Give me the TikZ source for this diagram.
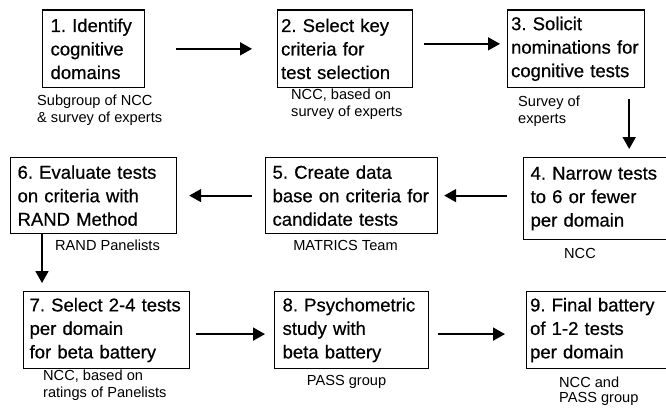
\documentclass[tikz,border=0pt]{standalone}
\usepackage{fontspec}
\setmainfont{Liberation Sans}
\newfontfamily\stagefam[FakeBold=0.6]{Liberation Sans}
\frenchspacing
\usetikzlibrary{arrows.meta}
\newcommand{\stagefont}{\stagefam\fontsize{18.5}{23.5}\selectfont}
\newcommand{\whofont}{\fontsize{14.6}{17}\selectfont}
\tikzset{
  stage/.style = {
    draw, line width=1.2pt, anchor=north west, align=left,
    inner ysep=0pt, font=\stagefont
  },
  who/.style = {align=left, inner sep=0pt, font=\whofont},
  flow/.style = {line width=1.8pt, -{Triangle[length=12pt,width=13pt]}}
}

\begin{document}
\begin{tikzpicture}[x=1pt,y=-1pt]
  \useasboundingbox (0,0) rectangle (666,409);
  %
  \node[stage, inner xsep=8pt, text width=86pt, minimum height=77.5pt] (b1) at (42,9.5) {1. Identify\\ cognitive\\ domains};
  \node[stage, inner xsep=3.5pt, text width=128pt, minimum height=77.5pt] (b2) at (277,9.5) {2. Select key\\ criteria for\\ test selection};
  \node[stage, inner xsep=3.5pt, text width=130pt, minimum height=77.5pt] (b3) at (507,9.5) {3. Solicit\\ nominations for\\ cognitive tests};
  %
  \node[stage, inner xsep=7pt, text width=133pt, minimum height=82pt] (b4) at (523,157) {4. Narrow tests\\ to 6 or fewer\\ per domain};
  \node[stage, inner xsep=7pt, text width=158pt, minimum height=76pt] (b5) at (265,157) {5. Create data\\ base on criteria for\\ candidate tests};
  \node[stage, inner xsep=7pt, text width=152pt, minimum height=76pt] (b6) at (10,157) {6. Evaluate tests\\ on criteria with\\ RAND Method};
  %
  \node[stage, inner xsep=6pt, text width=154pt, minimum height=77pt] (b7) at (23,291) {7. Select 2-4 tests\\ per domain\\ for beta battery};
  \node[stage, inner xsep=8pt, text width=138pt, minimum height=77pt] (b8) at (274,291) {8. Psychometric\\ study with\\ beta battery};
  \node[stage, inner xsep=3.5pt, text width=137pt, minimum height=77pt] (b9) at (526,291) {9. Final battery\\ of 1-2 tests\\ per domain};
  %
  \node[who, anchor=north west] (w1) at (37,95) {Subgroup of NCC\\ \& survey of experts};
  \node[who, anchor=north west] (w2) at (291,89) {NCC, based on\\ survey of experts};
  \node[who, anchor=north west] (w3) at (518,96) {Survey of\\ experts};
  \node[who, anchor=north] (w4) at (580,248) {NCC};
  \node[who, anchor=north] (w5) at (345.5,240) {MATRICS Team};
  \node[who, anchor=north west] (w6) at (55,240) {RAND Panelists};
  \node[who, anchor=north west] (w7) at (43,370) {NCC, based on\\ ratings of Panelists};
  \node[who, anchor=north] (w8) at (346.5,375) {PASS group};
  \node[who, anchor=north west] (w9) at (559,377) {NCC and\\[-2pt] PASS group};
  %
  \coordinate (t3) at ([xshift=-16pt]b3.south east);
  \coordinate (t6) at ([xshift=32pt]b6.south west);
  %
  \draw[flow, shorten <=31pt, shorten >=25pt] (b1) -- (b2);
  \draw[flow, shorten <=11pt, shorten >=7pt] ([yshift=5pt]b2.east) -- ([yshift=5pt]b3.west);
  \draw[flow, shorten <=11pt, shorten >=8pt] (t3) -- (t3 |- b4.north);
  \draw[flow, shorten <=16pt, shorten >=6pt] (b4.west |- b5.east) -- (b5.east);
  \draw[flow, shorten <=13pt, shorten >=12pt] (b5) -- (b6);
  \draw[flow, shorten >=8pt] (t6) -- (t6 |- b7.north);
  \draw[flow, shorten <=6pt, shorten >=9pt] ([yshift=-4pt]b7.east) -- ([yshift=-4pt]b8.west);
  \draw[flow, shorten <=9pt, shorten >=21pt] ([yshift=-4pt]b8.east) -- ([yshift=-4pt]b9.west);
\end{tikzpicture}
\end{document}
